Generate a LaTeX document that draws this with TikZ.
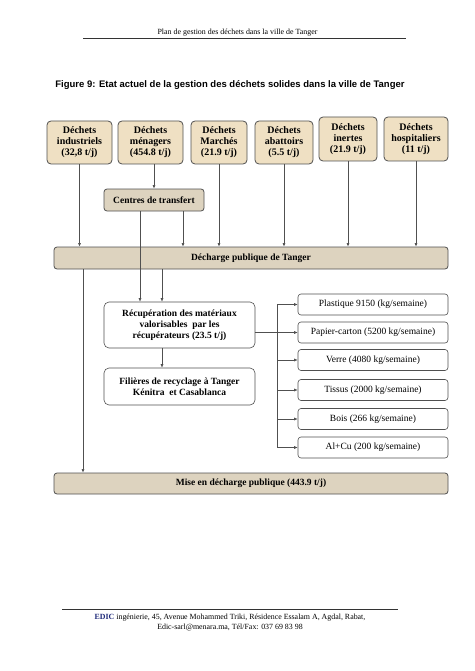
\documentclass[tikz,border=0pt]{standalone}
\usepackage{fontspec}
\setmainfont{Liberation Serif}
\newfontfamily\arialfont{Liberation Sans}
\usetikzlibrary{arrows.meta}
\definecolor{parchment}{HTML}{EFE0C3}
\definecolor{stone}{HTML}{DDD3BF}
\definecolor{edge}{HTML}{505050}
\definecolor{edicblue}{HTML}{1F2A7A}

\begin{document}
\begin{tikzpicture}[x=1pt, y=-1pt,
    source/.style={draw=edge, line width=0.8pt, fill=parchment, rounded corners=4pt, align=center, inner sep=0pt, font=\fontsize{10}{11}\selectfont\bfseries},
    site/.style={draw=edge, line width=0.8pt, fill=stone, rounded corners=3pt, align=center, inner sep=0pt, font=\fontsize{9.5}{11}\selectfont\bfseries},
    stage/.style={draw=edge, line width=0.6pt, fill=white, rounded corners=5pt, align=center, inner sep=0pt, font=\fontsize{9.5}{11}\selectfont\bfseries},
    product/.style={draw=edge, line width=0.6pt, fill=white, rounded corners=3pt, minimum width=150pt, minimum height=21pt, inner sep=0pt, font=\fontsize{9.5}{11}\selectfont},
    flow/.style={draw=edge, line width=0.6pt, -{Latex[length=3.5pt,width=3pt]}},
    link/.style={draw=edge, line width=0.6pt}
]
    \useasboundingbox (0,0) rectangle (474,671);

    % header and title
    \node[font=\fontsize{7.9}{9}\selectfont] (head) at (237.5,33) {Plan de gestion des déchets dans la ville de Tanger};
    \draw[line width=0.6pt, black!80] (83,38) -- (406,38);
    \node[font=\arialfont\fontsize{9.5}{11}\selectfont\bfseries] (title) at (230,85) {Figure 9: Etat actuel de la gestion des déchets solides dans la ville de Tanger};

    % sources
    \node[source, minimum width=65pt, minimum height=43pt] (D1) at (79.5,142.5) {Déchets\\industriels\\(32,8 t/j)};
    \node[source, minimum width=65pt, minimum height=43pt] (D2) at (150.5,142.5) {Déchets\\ménagers\\(454.8 t/j)};
    \node[source, minimum width=56pt, minimum height=43pt] (D3) at (219,142.5) {Déchets\\Marchés\\(21.9 t/j)};
    \node[source, minimum width=58pt, minimum height=43pt] (D4) at (284,142.5) {Déchets\\abattoirs\\(5.5 t/j)};
    \node[source, minimum width=58pt, minimum height=44pt] (D5) at (348,139) {Déchets\\inertes\\(21.9 t/j)};
    \node[source, minimum width=64pt, minimum height=44pt] (D6) at (416,139) {Déchets\\hospitaliers\\(11 t/j)};

    % transfer and dump
    \node[site, minimum width=100pt, minimum height=22pt] (T) at (154,200) {Centres de transfert};
    \node[site, minimum width=394pt, minimum height=22pt] (P) at (251,258) {Décharge publique de Tanger};

    % recovery
    \node[stage, minimum width=151pt, minimum height=46pt] (R) at (179.5,325) {Récupération des matériaux\\valorisables\ \ par les\\récupérateurs (23.5 t/j)};
    \node[stage, minimum width=151pt, minimum height=37pt] (F) at (179.5,386.5) {Filières de recyclage à Tanger\\Kénitra\ \ et Casablanca};

    % products
    \node[product] (V1) at (373,304.5) {Plastique 9150 (kg/semaine)};
    \node[product] (V2) at (373,332.5) {Papier-carton (5200 kg/semaine)};
    \node[product] (V3) at (373,360) {Verre (4080 kg/semaine)};
    \node[product] (V4) at (373,390) {Tissus (2000 kg/semaine)};
    \node[product] (V5) at (373,419) {Bois (266 kg/semaine)};
    \node[product] (V6) at (373,447.5) {Al+Cu (200 kg/semaine)};

    % final dump
    \node[site, minimum width=394pt, minimum height=21pt] (M) at (251,483.5) {Mise en décharge publique (443.9 t/j)};

    \coordinate (t1) at (183,0);
    \coordinate (t2) at (140,0);
    \coordinate (r1) at (162,0);
    \coordinate (m1) at (83,0);
    \coordinate (b1) at (277,0);

    % connectors
    \draw[flow] (D1) -- (D1 |- P.north);
    \draw[flow] (D2.south -| T.north) -- (T.north);
    \draw[flow] (D3) -- (D3 |- P.north);
    \draw[flow] (D4) -- (D4 |- P.north);
    \draw[flow] (D5) -- (D5 |- P.north);
    \draw[flow] (D6) -- (D6 |- P.north);
    \draw[flow] (T.south -| t1) -- (P.north -| t1);
    \draw[flow] (T.south -| t2) -- (R.north -| t2);
    \draw[flow] (P.south -| r1) -- (R.north -| r1);
    \draw[flow] (P.south -| m1) -- (M.north -| m1);
    \draw[flow] (R.south -| r1) -- (F.north -| r1);

    \draw[link] (R.east |- V2) -- (b1 |- V2);
    \draw[link] (b1 |- V1) -- (b1 |- V6);
    \draw[flow] (b1 |- V1) -- (V1.west);
    \draw[flow] (b1 |- V2) -- (V2.west);
    \draw[flow] (b1 |- V3) -- (V3.west);
    \draw[flow] (b1 |- V4) -- (V4.west);
    \draw[flow] (b1 |- V5) -- (V5.west);
    \draw[flow] (b1 |- V6) -- (V6.west);

    % footer
    \draw[line width=0.6pt, black!80] (62,609) -- (398,609);
    \node[font=\fontsize{7.9}{9.5}\selectfont, align=center] (foot) at (230,622.5) {\textcolor{edicblue}{\textbf{EDIC}} ingénierie, 45, Avenue Mohammed Triki, Résidence Essalam A, Agdal, Rabat,\\Edic-sarl@menara.ma, Tél/Fax: 037 69 83 98};
\end{tikzpicture}
\end{document}
